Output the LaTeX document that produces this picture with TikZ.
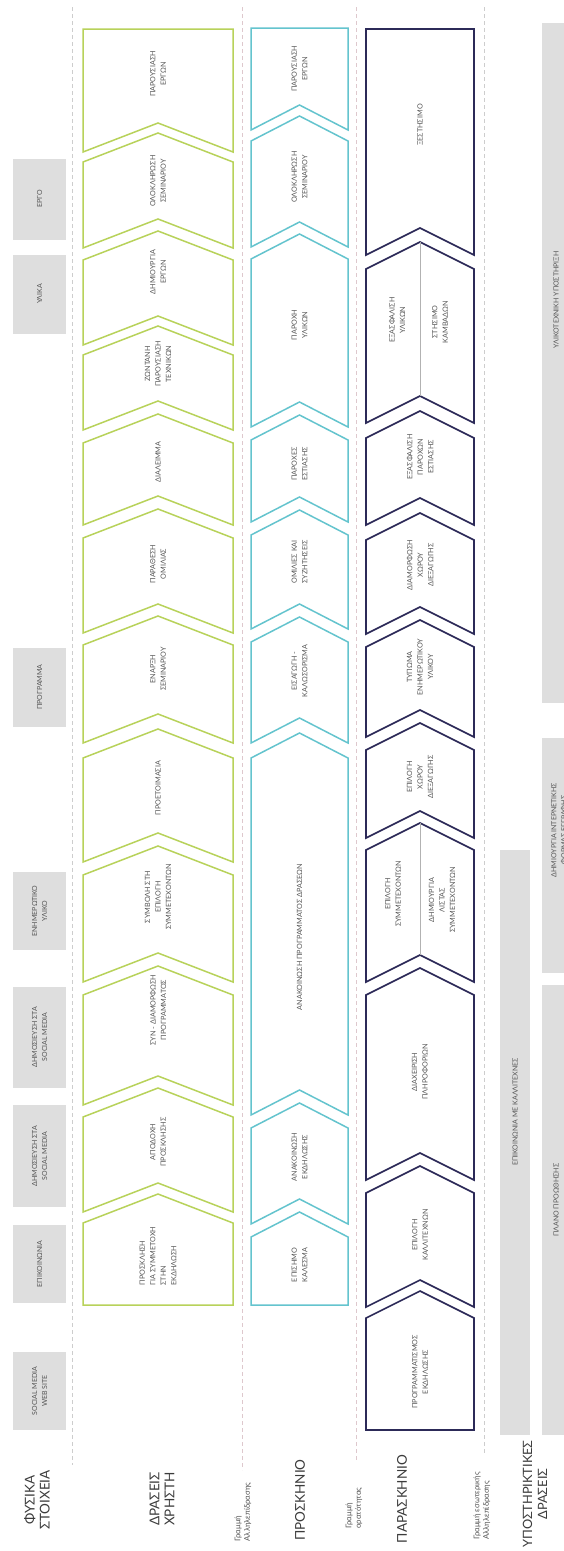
\documentclass[tikz,border=0pt]{standalone}
\usepackage{fontspec}
\setmainfont{Lato}
\definecolor{cgreen}{RGB}{184,210,90}
\definecolor{ccyan}{RGB}{100,196,206}
\definecolor{cnavy}{RGB}{44,42,88}
\definecolor{boxgray}{RGB}{222,222,222}
\definecolor{dashgray}{RGB}{205,205,205}
\definecolor{dashpink}{RGB}{222,200,205}
\definecolor{txtgray}{RGB}{85,85,85}
\definecolor{lblgray}{RGB}{60,60,60}
\newcommand{\chev}[7]{%
  \draw[#1] (#2,#4) -- ({(#2+#3)/2},{#4-#6}) -- (#3,#4) -- (#3,#5) -- ({(#2+#3)/2},{#5-#7}) -- (#2,#5) -- cycle;}
\begin{document}
\begin{tikzpicture}[x=1pt,y=-1pt,
  gchev/.style={draw=cgreen,line width=1.5pt,line join=miter,fill=white},
  cchev/.style={draw=ccyan,line width=1.5pt,line join=miter,fill=white},
  nchev/.style={draw=cnavy,line width=1.6pt,line join=miter,fill=white},
  ctext/.style={rotate=90,align=center,inner sep=0pt,text=txtgray,font=\fontsize{7.2}{10.5}\selectfont},
  ptext/.style={rotate=90,align=center,inner sep=0pt,text=txtgray,font=\fontsize{7}{10}\selectfont},
  biglbl/.style={rotate=90,align=center,inner sep=0pt,text=lblgray,font=\fontsize{13.5}{15}\selectfont},
  smalllbl/.style={rotate=90,align=left,inner sep=0pt,text=txtgray,font=\fontsize{7.8}{9.5}\selectfont},
  gbox/.style={fill=boxgray,draw=none},
  vdash/.style={draw=dashgray,line width=0.8pt,dash pattern=on 4pt off 3pt},
  pdash/.style={draw=dashpink,line width=0.8pt,dash pattern=on 4pt off 3pt},
  splitline/.style={draw=gray!60,line width=0.7pt}]
\useasboundingbox (0,0) rectangle (564,1551);
\fill[white] (0,0) rectangle (564,1551);

% dashed separator lines
\coordinate (d1a) at (72,7);   \coordinate (d1b) at (72,1465);
\coordinate (d2a) at (242,7);  \coordinate (d2b) at (242,1470);
\coordinate (d3a) at (356,7);  \coordinate (d3b) at (356,1460);
\coordinate (d4a) at (484,7);  \coordinate (d4b) at (484,1453);
\draw[vdash] (d1a) -- (d1b);
\draw[pdash] (d2a) -- (d2b);
\draw[pdash] (d3a) -- (d3b);
\draw[vdash] (d4a) -- (d4b);

% row labels
\node[biglbl] (lphys) at (37,1500) {ΦΥΣΙΚΑ\\ΣΤΟΙΧΕΙΑ};
\node[biglbl] (luser) at (162,1499) {ΔΡΑΣΕΙΣ\\ΧΡΗΣΤΗ};
\node[smalllbl] (linter) at (243,1512) {Γραμμή\\Αλληλεπίδρασης};
\node[biglbl] (lon) at (300,1500) {ΠΡΟΣΚΗΝΙΟ};
\node[smalllbl] (lvis) at (354,1508) {Γραμμή\\ορατότητας};
\node[biglbl] (lback) at (402,1499) {ΠΑΡΑΣΚΗΝΙΟ};
\node[smalllbl] (linner) at (482,1506) {Γραμμή εσωτερικής\\Αλληλεπίδρασης};
\node[biglbl,font=\fontsize{12.8}{15}\selectfont] (lsup) at (535,1494) {ΥΠΟΣΤΗΡΙΚΤΙΚΕΣ\\ΔΡΑΣΕΙΣ};

% physical evidence
\fill[gbox] (13,1352) rectangle (66,1430);
\node[ptext] (p1) at (39.5,1391) {SOCIAL MEDIA\\WEB SITE};
\fill[gbox] (13,1225) rectangle (66,1303);
\node[ptext] (p2) at (39.5,1264) {ΕΠΙΚΟΙΝΩΝΙΑ};
\fill[gbox] (13,1105) rectangle (66,1207);
\node[ptext] (p3) at (39.5,1156) {ΔΗΜΟΣΙΕΥΣΗ ΣΤΑ\\SOCIAL MEDIA};
\fill[gbox] (13,987) rectangle (66,1088);
\node[ptext] (p4) at (39.5,1037) {ΔΗΜΟΣΙΕΥΣΗ ΣΤΑ\\SOCIAL MEDIA};
\fill[gbox] (13,872) rectangle (66,950);
\node[ptext] (p5) at (39.5,911) {ΕΝΗΜΕΡΩΤΙΚΟ\\ΥΛΙΚΟ};
\fill[gbox] (13,648) rectangle (66,727);
\node[ptext] (p6) at (39.5,687) {ΠΡΟΓΡΑΜΜΑ};
\fill[gbox] (13,255) rectangle (66,334);
\node[ptext] (p7) at (39.5,294) {ΥΛΙΚΑ};
\fill[gbox] (13,159) rectangle (66,240);
\node[ptext] (p8) at (39.5,199) {ΕΡΓΟ};

% user actions (green)
\chev{gchev}{83}{233}{1305}{1223}{0}{29}
\chev{gchev}{83}{233}{1212}{1117}{29}{29}
\chev{gchev}{83}{233}{1105}{995}{29}{29}
\chev{gchev}{83}{233}{982}{875}{29}{29}
\chev{gchev}{83}{233}{862}{758}{29}{29}
\chev{gchev}{83}{233}{743}{645}{29}{29}
\chev{gchev}{83}{233}{633}{538}{29}{29}
\chev{gchev}{83}{233}{525}{443}{29}{29}
\chev{gchev}{83}{233}{430}{355}{29}{29}
\chev{gchev}{83}{233}{345}{260}{29}{29}
\chev{gchev}{83}{233}{248}{162}{29}{29}
\chev{gchev}{83}{233}{152}{29}{29}{0}
\node[ctext,align=left] (g1) at (158,1256) {ΠΡΟΣΚΛΗΣΗ\\ΓΙΑ ΣΥΜΜΕΤΟΧΗ\\ΣΤΗΝ\\ΕΚΔΗΛΩΣΗ};
\node[ctext] (g2) at (158,1142) {ΑΠΟΔΟΧΗ\\ΠΡΟΣΚΛΗΣΗΣ};
\node[ctext] (g3) at (158,1010) {ΣΥΝ - ΔΙΑΜΟΡΦΩΣΗ\\ΠΡΟΓΡΑΜΜΑΤΟΣ};
\node[ctext] (g4) at (158,897) {ΣΥΜΒΟΛΗ ΣΤΗ\\ΕΠΙΛΟΓΗ\\ΣΥΜΜΕΤΕΧΟΝΤΩΝ};
\node[ctext] (g5) at (158,788) {ΠΡΟΕΤΟΙΜΑΣΙΑ};
\node[ctext] (g6) at (158,669) {ΕΝΑΡΞΗ\\ΣΕΜΙΝΑΡΙΟΥ};
\node[ctext] (g7) at (158,564) {ΠΑΡΑΘΕΣΗ\\ΟΜΙΛΙΑΣ};
\node[ctext] (g8) at (158,462) {ΔΙΑΛΕΙΜΜΑ};
\node[ctext] (g9) at (158,364) {ΖΩΝΤΑΝΗ\\ΠΑΡΟΥΣΙΑΣΗ\\ΤΕΧΝΙΚΩΝ};
\node[ctext] (g10) at (158,272) {ΔΗΜΙΟΥΡΓΙΑ\\ΕΡΓΩΝ};
\node[ctext] (g11) at (158,181) {ΟΛΟΚΛΗΡΩΣΗ\\ΣΕΜΙΝΑΡΙΟΥ};
\node[ctext] (g12) at (158,74) {ΠΑΡΟΥΣΙΑΣΗ\\ΕΡΓΩΝ};

% onstage (cyan)
\chev{cchev}{251}{348}{1305}{1237}{0}{25}
\chev{cchev}{251}{348}{1224}{1128}{25}{25}
\chev{cchev}{251}{348}{1115}{758}{25}{25}
\chev{cchev}{251}{348}{743}{642}{25}{25}
\chev{cchev}{251}{348}{629}{535}{25}{25}
\chev{cchev}{251}{348}{522}{440}{25}{25}
\chev{cchev}{251}{348}{427}{259}{25}{25}
\chev{cchev}{251}{348}{247}{141}{25}{25}
\chev{cchev}{251}{348}{130}{28}{25}{0}
\node[ctext] (c1) at (299.5,1265) {ΕΠΙΣΗΜΟ\\ΚΑΛΕΣΜΑ};
\node[ctext] (c2) at (299.5,1157) {ΑΝΑΚΟΙΝΩΣΗ\\ΕΚΔΗΛΩΣΗΣ};
\node[ctext] (c3) at (299.5,937) {ΑΝΑΚΟΙΝΩΣΗ ΠΡΟΓΡΑΜΜΑΤΟΣ ΔΡΑΣΕΩΝ};
\node[ctext] (c4) at (299.5,671) {ΕΙΣΑΓΩΓΗ -\\ΚΑΛΩΣΟΡΙΣΜΑ};
\node[ctext] (c5) at (299.5,562) {ΟΜΙΛΙΕΣ ΚΑΙ\\ΣΥΖΗΤΗΣΕΙΣ};
\node[ctext] (c6) at (299.5,464) {ΠΑΡΟΧΕΣ\\ΕΣΤΙΑΣΗΣ};
\node[ctext] (c7) at (299.5,325) {ΠΑΡΟΧΗ\\ΥΛΙΚΩΝ};
\node[ctext] (c8) at (299.5,177) {ΟΛΟΚΛΗΡΩΣΗ\\ΣΕΜΙΝΑΡΙΟΥ};
\node[ctext] (c9) at (299.5,69) {ΠΑΡΟΥΣΙΑΣΗ\\ΕΡΓΩΝ};

% backstage (navy)
\chev{nchev}{366}{474}{1430}{1318}{0}{27}
\chev{nchev}{366}{474}{1307}{1193}{27}{27}
\chev{nchev}{366}{474}{1180}{995}{27}{27}
\chev{nchev}{366}{474}{982}{850}{27}{27}
\chev{nchev}{366}{474}{838}{750}{27}{27}
\chev{nchev}{366}{474}{737}{647}{27}{27}
\chev{nchev}{366}{474}{634}{540}{27}{27}
\chev{nchev}{366}{474}{525}{438}{27}{27}
\chev{nchev}{366}{474}{423}{269}{27}{27}
\chev{nchev}{366}{474}{255}{29}{27}{0}
\coordinate (s1a) at (420,955); \coordinate (s1b) at (420,823);
\coordinate (s2a) at (420,396); \coordinate (s2b) at (420,242);
\draw[splitline] (s1a) -- (s1b);
\draw[splitline] (s2a) -- (s2b);
\node[ctext] (n1) at (420,1372) {ΠΡΟΓΡΑΜΜΑΤΙΣΜΟΣ\\ΕΚΔΗΛΩΣΗΣ};
\node[ctext] (n2) at (420,1235) {ΕΠΙΛΟΓΗ\\ΚΑΛΛΙΤΕΧΝΩΝ};
\node[ctext] (n3) at (420,1072) {ΔΙΑΧΕΙΡΙΣΗ\\ΠΛΗΡΟΦΟΡΙΩΝ};
\node[ctext] (n4a) at (393,894) {ΕΠΙΛΟΓΗ\\ΣΥΜΜΕΤΕΧΟΝΤΩΝ};
\node[ctext] (n4b) at (442,900) {ΔΗΜΙΟΥΡΓΙΑ\\ΛΙΣΤΑΣ\\ΣΥΜΜΕΤΕΧΟΝΤΩΝ};
\node[ctext] (n5) at (420,777) {ΕΠΙΛΟΓΗ\\ΧΩΡΟΥ\\ΔΙΕΞΑΓΩΓΗΣ};
\node[ctext] (n6) at (420,667) {ΤΥΠΩΜΑ\\ΕΝΗΜΕΡΩΤΙΚΟΥ\\ΥΛΙΚΟΥ};
\node[ctext] (n7) at (420,565) {ΔΙΑΜΟΡΦΩΣΗ\\ΧΩΡΟΥ\\ΔΙΕΞΑΓΩΓΗΣ};
\node[ctext] (n8) at (420,457) {ΕΞΑΣΦΑΛΙΣΗ\\ΠΑΡΟΧΩΝ\\ΕΣΤΙΑΣΗΣ};
\node[ctext] (n9a) at (397,320) {ΕΞΑΣΦΑΛΙΣΗ\\ΥΛΙΚΩΝ};
\node[ctext] (n9b) at (440,322) {ΣΤΗΣΙΜΟ\\ΚΑΜΒΑΔΩΝ};
\node[ctext] (n10) at (420,125) {ΞΕΣΤΗΣΙΜΟ};

% support processes
\fill[gbox] (500,850) rectangle (530,1435);
\node[ptext] (s1) at (515,1112) {ΕΠΙΚΟΙΝΩΝΙΑ ΜΕ ΚΑΛΛΙΤΕΧΝΕΣ};
\fill[gbox] (542,985) rectangle (580,1435);
\node[ptext] (s2) at (556,1200) {ΠΛΑΝΟ ΠΡΟΩΘΗΣΗΣ};
\fill[gbox] (542,738) rectangle (580,973);
\node[ptext,anchor=north] (s3) at (551,830) {ΔΗΜΙΟΥΡΓΙΑ ΙΝΤΕΡΝΕΤΙΚΗΣ\\ΦΟΡΜΑΣ ΕΓΓΡΑΦΗΣ};
\fill[gbox] (542,23) rectangle (580,703);
\node[ptext] (s4) at (556,300) {ΥΛΙΚΟΤΕΧΝΙΚΗ ΥΠΟΣΤΗΡΙΞΗ};
\end{tikzpicture}
\end{document}
